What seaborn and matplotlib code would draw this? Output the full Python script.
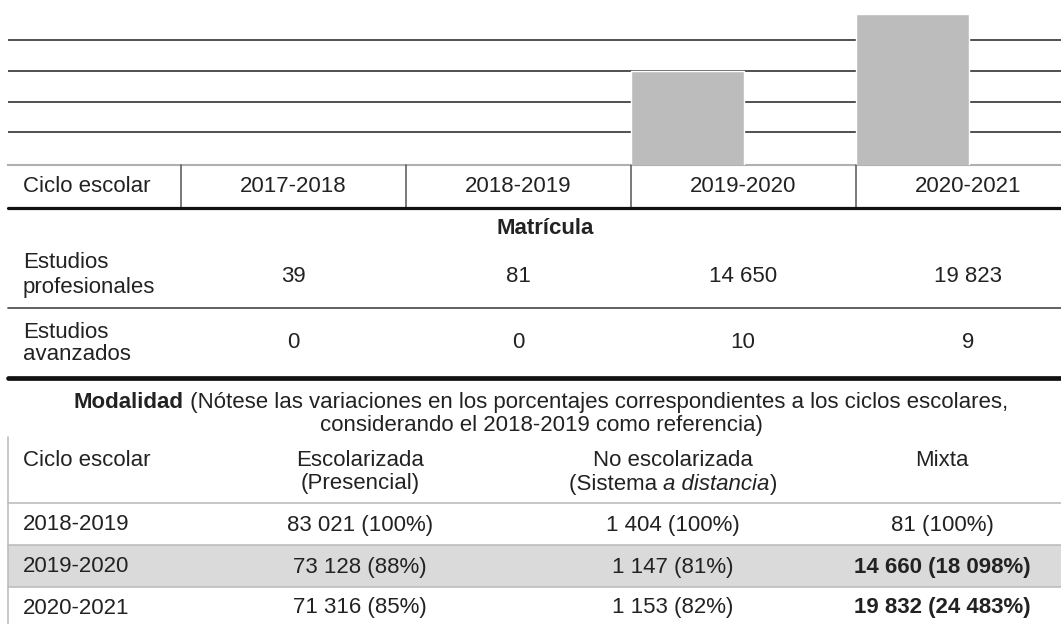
import numpy as np
import pandas as pd
import seaborn as sns
import matplotlib.pyplot as plt

# Data
ciclos = ['2017-2018', '2018-2019', '2019-2020', '2020-2021']
profesionales = [39, 81, 14650, 19823]
avanzados = [0, 0, 10, 9]

ciclos_mod = ['2018-2019', '2019-2020', '2020-2021']
escolarizada = [83021, 73128, 71316]
escolarizada_pct = [100, 88, 85]
no_escolarizada = [1404, 1147, 1153]
no_escolarizada_pct = [100, 81, 82]
mixta = [81, 14660, 19832]
mixta_pct = [100, 18098, 24483]

FONT = 'Liberation Sans'
TXT = '#222222'
FS = 16


def fmt(v):
    return f"{v:,}".replace(',', ' ')


sns.set_theme(style='white')
plt.rcParams['font.family'] = [FONT, 'DejaVu Sans']

fig = plt.figure(figsize=(10.61, 6.24), dpi=100)
W, H = 1061, 624

# Bar chart fragment on top (pixel rows 0..165)
ax = fig.add_axes([8 / W, (H - 165) / H, (W - 8) / W, 165 / H])
df = pd.DataFrame({'ciclo': ciclos, 'matricula': profesionales})
sns.barplot(data=df, x='ciclo', y='matricula', color='#bcbcbc', saturation=1,
            width=0.5, ax=ax, zorder=3)
ax.set_xlim(-1.019, 3.661)
ax.set_ylim(6120, 21090)
ax.set_yticks([9080, 11865, 14650, 17435])
ax.yaxis.grid(True, color='#505050', lw=1.4)
ax.set_axisbelow(True)
ax.tick_params(left=False, bottom=False, labelleft=False, labelbottom=False)
ax.set_xlabel('')
ax.set_ylabel('')
for s in ['top', 'left', 'right']:
    ax.spines[s].set_visible(False)
ax.spines['bottom'].set_color('#b0b0b0')
ax.spines['bottom'].set_linewidth(1.5)
ax.patch.set_alpha(0)

# Table overlay in pixel coordinates
tb = fig.add_axes([0, 0, 1, 1])
tb.set_xlim(0, W)
tb.set_ylim(H, 0)
tb.axis('off')
tb.patch.set_alpha(0)


def txt(x, y, s, ha='center', **kw):
    tb.text(x, y, s, ha=ha, va='center', fontsize=FS, color=TXT, **kw)


col_x = [293, 518, 743, 968]
left_x = 23

# header row
for x in [181, 406, 631, 856]:
    tb.plot([x, x], [165, 208], color='#555555', lw=1.1)
txt(left_x, 187, 'Ciclo escolar', ha='left')
for x, c in zip(col_x, ciclos):
    txt(x, 187, c)
tb.plot([8, W], [208, 208], color='#111111', lw=2.3)

txt(545, 229, 'Matrícula', fontweight='bold')
txt(left_x, 263, 'Estudios', ha='left')
txt(left_x, 288, 'profesionales', ha='left')
for x, v in zip(col_x, profesionales):
    txt(x, 277, fmt(v))
tb.plot([8, W], [308, 308], color='#555555', lw=1.3)

txt(left_x, 332, 'Estudios', ha='left')
txt(left_x, 355, 'avanzados', ha='left')
for x, v in zip(col_x, avanzados):
    txt(x, 343, fmt(v))
tb.plot([8, W], [378, 378], color='#111111', lw=3.4)

# mixed-style line helper (parts share one baseline)
renderer = fig.canvas.get_renderer()


def rich(xc, y, parts):
    objs = [tb.text(0, y, s, ha='left', va='baseline', fontsize=FS, color=TXT,
                    fontweight=w, fontstyle=st) for s, w, st in parts]
    widths = [o.get_window_extent(renderer).width for o in objs]
    x = xc - sum(widths) / 2
    for o, w in zip(objs, widths):
        o.set_x(x)
        x += w


rich(541, 408, [('Modalidad', 'bold', 'normal'),
                (' (Nótese las variaciones en los porcentajes correspondientes a los ciclos escolares,',
                 'normal', 'normal')])
txt(541, 425, 'considerando el 2018-2019 como referencia)')

# modalidad table
mod_x = [360, 673, 942]
tb.fill_between([8, W], 545, 587, color='#dadada', lw=0, zorder=0)
tb.plot([8, 8], [437, H], color='#bdbdbd', lw=1.2)
for y in [503, 545, 587]:
    tb.plot([8, W], [y, y], color='#bdbdbd', lw=1.2)

txt(left_x, 460, 'Ciclo escolar', ha='left')
txt(mod_x[0], 460, 'Escolarizada')
txt(mod_x[0], 483, '(Presencial)')
txt(mod_x[1], 460, 'No escolarizada')
rich(mod_x[1], 490, [('(Sistema ', 'normal', 'normal'),
                     ('a distancia', 'normal', 'italic'),
                     (')', 'normal', 'normal')])
txt(mod_x[2], 460, 'Mixta')

row_y = [525, 567, 608]
for i, y in enumerate(row_y):
    txt(left_x, y, ciclos_mod[i], ha='left')
    txt(mod_x[0], y, f"{fmt(escolarizada[i])} ({escolarizada_pct[i]}%)")
    txt(mod_x[1], y, f"{fmt(no_escolarizada[i])} ({no_escolarizada_pct[i]}%)")
    txt(mod_x[2], y, f"{fmt(mixta[i])} ({fmt(mixta_pct[i])}%)",
        fontweight='bold' if i > 0 else 'normal')

fig.savefig('out.png', dpi=100)
